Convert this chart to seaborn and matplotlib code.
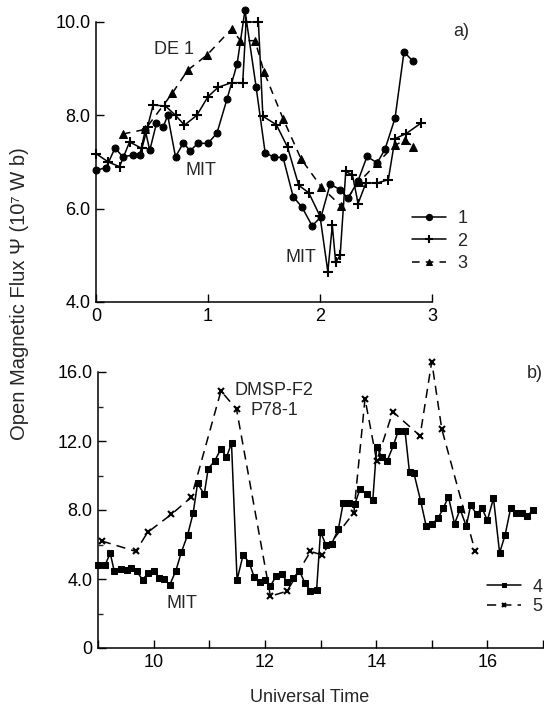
import numpy as np
import pandas as pd
import matplotlib
matplotlib.use("Agg")
import matplotlib.pyplot as plt
import seaborn as sns
from matplotlib.ticker import FixedLocator, FixedFormatter, MultipleLocator

# ---- panel a) data ----
t1 = [0.0, 0.09, 0.17, 0.24, 0.33, 0.39, 0.44, 0.48, 0.54, 0.60, 0.64, 0.71, 0.78, 0.84, 0.91, 1.00,
      1.08, 1.17, 1.26, 1.33, 1.43, 1.51, 1.59, 1.67, 1.76, 1.84, 1.93, 2.01, 2.09, 2.18, 2.25, 2.34,
      2.42, 2.51, 2.58, 2.67, 2.75, 2.83]
v1 = [6.82, 6.88, 7.3, 7.11, 7.15, 7.15, 7.68, 7.25, 7.83, 7.75, 8.0, 7.11, 7.41, 7.24, 7.4, 7.4,
      7.62, 8.35, 9.1, 10.25, 8.6, 7.2, 7.1, 7.1, 6.26, 6.03, 5.63, 5.83, 6.52, 6.41, 6.22, 6.6,
      7.12, 6.98, 7.27, 7.94, 9.36, 9.16]

t2 = [0.0, 0.11, 0.21, 0.30, 0.41, 0.46, 0.51, 0.62, 0.71, 0.79, 0.90, 1.00, 1.09, 1.21, 1.31, 1.34,
      1.45, 1.49, 1.61, 1.71, 1.81, 1.90, 2.00, 2.07, 2.11, 2.14, 2.18, 2.23, 2.29, 2.34, 2.41, 2.51,
      2.61, 2.67, 2.77, 2.90]
v2 = [7.18, 7.0, 6.9, 7.43, 7.29, 7.75, 8.22, 8.2, 8.0, 7.79, 8.0, 8.4, 8.6, 8.7, 8.7, 10.0,
      10.0, 7.98, 7.8, 7.32, 6.5, 6.34, 5.84, 4.65, 5.64, 4.85, 5.0, 6.8, 6.72, 6.11, 6.55, 6.55,
      6.62, 7.5, 7.61, 7.83]

t3 = [0.24, 0.44, 0.68, 0.82, 0.99, 1.21, 1.29, 1.42, 1.50, 1.67, 1.83, 2.01, 2.19, 2.35, 2.51,
      2.67, 2.76, 2.83]
v3 = [7.6, 7.7, 8.47, 8.97, 9.29, 9.85, 9.6, 9.6, 8.93, 7.93, 7.07, 6.47, 6.05, 6.57, 6.98,
      7.36, 7.47, 7.33]

# ---- panel b) data ----
t4 = [9.0, 9.13, 9.22, 9.29, 9.41, 9.52, 9.6, 9.7, 9.8, 9.9,
      10.01, 10.1, 10.19, 10.29, 10.4, 10.5, 10.61, 10.71, 10.79, 10.91,
      10.98, 11.1, 11.21, 11.31, 11.4, 11.5, 11.61, 11.72, 11.81, 11.91,
      12.0, 12.1, 12.2, 12.3, 12.4, 12.51, 12.62, 12.72, 12.82, 12.93,
      13.0, 13.1, 13.2, 13.32, 13.41, 13.52, 13.62, 13.71, 13.83, 13.94,
      14.01, 14.1, 14.2, 14.31, 14.4, 14.52, 14.6, 14.68, 14.8, 14.9,
      15.0, 15.12, 15.21, 15.3, 15.41, 15.51, 15.62, 15.7, 15.81, 15.9,
      16.0, 16.11, 16.22, 16.32, 16.42, 16.52, 16.62, 16.71, 16.82]
v4 = [4.83, 4.83, 5.5, 4.48, 4.6, 4.54, 4.63, 4.44, 3.95, 4.34,
      4.48, 4.05, 4.01, 3.66, 4.48, 5.57, 6.54, 7.81, 9.54, 8.91,
      10.38, 10.86, 11.54, 11.06, 11.87, 3.95, 5.41, 4.93, 4.09, 3.85,
      3.95, 3.6, 4.15, 4.28, 3.85, 4.05, 4.48, 3.76, 3.31, 3.37,
      6.73, 5.96, 6.04, 6.87, 8.43, 8.43, 8.37, 9.21, 8.91, 8.56,
      11.68, 11.06, 10.86, 11.74, 12.6, 12.57, 10.18, 10.12, 8.53, 7.07,
      7.16, 7.55, 8.13, 8.76, 7.2, 8.04, 7.07, 8.27, 7.75, 8.13,
      7.4, 8.68, 5.51, 6.57, 8.13, 7.84, 7.84, 7.65, 7.98]

t5 = [9.07, 9.68, 9.89, 10.32, 10.68, 11.21, 11.49, 12.1, 12.4, 12.82, 13.02, 13.6, 13.8, 14.01,
      14.3, 14.79, 15.0, 15.18, 15.78]
v5 = [6.2, 5.6, 6.7, 7.75, 8.75, 14.9, 13.85, 3.0, 3.3, 5.6, 5.4, 7.85, 14.45, 10.85,
      13.7, 12.3, 16.6, 12.7, 5.6]

labels_a = ["1", "2", "3"]
labels_b = ["4", "5"]
xticks_a = [0, 1, 2, 3]
yticks_a = [4.0, 6.0, 8.0, 10.0]
xticks_b = [9, 10, 11, 12, 13, 14, 15, 16, 17]
xticklabels_b = ["", "10", "", "12", "", "14", "", "16", ""]
yticks_b = [0, 4, 8, 12, 16]
yticklabels_b = ["0", "4.0", "8.0", "12.0", "16.0"]

sns.set_theme(style="ticks")
plt.rcParams["font.family"] = ["Liberation Sans", "DejaVu Sans"]
FS = 13

W, H = 544, 709
fig = plt.figure(figsize=(W / 100, H / 100), dpi=100)

def frac_axes(x0, x1, ytop, ybot):
    return fig.add_axes([x0 / W, 1 - ybot / H, (x1 - x0) / W, (ybot - ytop) / H])

ax1 = frac_axes(96, 432, 22, 302)
ax2 = frac_axes(98, 543, 372, 648)

common = dict(color="black", mfc="black", mec="black", clip_on=False, linewidth=1.1)
sns.lineplot(x=t1, y=v1, ax=ax1, marker="o", markersize=5, linestyle="-", label=labels_a[0], **common)
sns.lineplot(x=t2, y=v2, ax=ax1, marker="+", markersize=7, mew=1.5, linestyle="-", label=labels_a[1], **common)
sns.lineplot(x=t3, y=v3, ax=ax1, marker="^", markersize=5.5, linestyle=(0, (5, 4)), label=labels_a[2], **common)

sns.lineplot(x=t4, y=v4, ax=ax2, marker="s", markersize=5, linestyle="-", label=labels_b[0], **common)
sns.lineplot(x=t5, y=v5, ax=ax2, marker="x", markersize=5, mew=1.5, linestyle=(0, (6, 4)), label=labels_b[1], **common)

for ax in (ax1, ax2):
    sns.despine(ax=ax)
    ax.set_xlabel("")
    ax.set_ylabel("")
    ax.tick_params(direction="in", length=6, width=1, labelsize=FS, colors="black", pad=4)
    ax.tick_params(which="minor", direction="in", length=3.5, width=1)
    for s in ("left", "bottom"):
        ax.spines[s].set_linewidth(1.1)
        ax.spines[s].set_color("black")
    ax.set_facecolor("white")

ax1.set_xlim(0, 3)
ax1.set_ylim(4, 10)
ax1.set_xticks(xticks_a)
ax1.set_xticklabels([str(v) for v in xticks_a])
ax1.set_yticks(yticks_a)
ax1.set_yticklabels([f"{v:.1f}" for v in yticks_a])

ax2.set_xlim(9, 17)
ax2.set_ylim(0, 16)
ax2.xaxis.set_major_locator(FixedLocator(xticks_b))
ax2.xaxis.set_major_formatter(FixedFormatter(xticklabels_b))
ax2.yaxis.set_major_locator(FixedLocator(yticks_b))
ax2.yaxis.set_major_formatter(FixedFormatter(yticklabels_b))
ax2.yaxis.set_minor_locator(MultipleLocator(2))

# legends
leg1 = ax1.legend(loc="center left", bbox_to_anchor=(412 / W, 1 - 241 / H), bbox_transform=fig.transFigure,
                  frameon=False, fontsize=FS, handlelength=1.9, handletextpad=0.6, labelspacing=0.3,
                  borderpad=0, borderaxespad=0, markerscale=0.9)
leg2 = ax2.legend(loc="center left", bbox_to_anchor=(487 / W, 1 - 597 / H), bbox_transform=fig.transFigure,
                  frameon=False, fontsize=FS, handlelength=1.9, handletextpad=0.6, labelspacing=0.15,
                  borderpad=0, borderaxespad=0, markerscale=0.6)

# annotations
ax1.text(0.70, 9.4, "DE 1", fontsize=FS, ha="center", va="center")
ax1.text(0.94, 6.82, "MIT", fontsize=FS, ha="center", va="center")
ax1.text(1.83, 4.96, "MIT", fontsize=FS, ha="center", va="center")
ax1.text(3.26, 9.79, "a)", fontsize=FS, ha="center", va="center")

ax2.text(11.46, 14.95, "DMSP-F2", fontsize=FS, ha="left", va="center")
ax2.text(11.75, 13.78, "P78-1", fontsize=FS, ha="left", va="center")
ax2.text(10.51, 2.57, "MIT", fontsize=FS, ha="center", va="center")
ax2.text(16.86, 15.94, "b)", fontsize=FS, ha="center", va="center")

fig.text(20 / W, 1 - 294 / H, "Open Magnetic Flux Ψ (10⁷ W b)", rotation=90, fontsize=14.5,
         ha="center", va="center")
fig.text(310 / W, 1 - 697 / H, "Universal Time", fontsize=FS, ha="center", va="center")

fig.savefig("out.png", dpi=100, facecolor="white")
